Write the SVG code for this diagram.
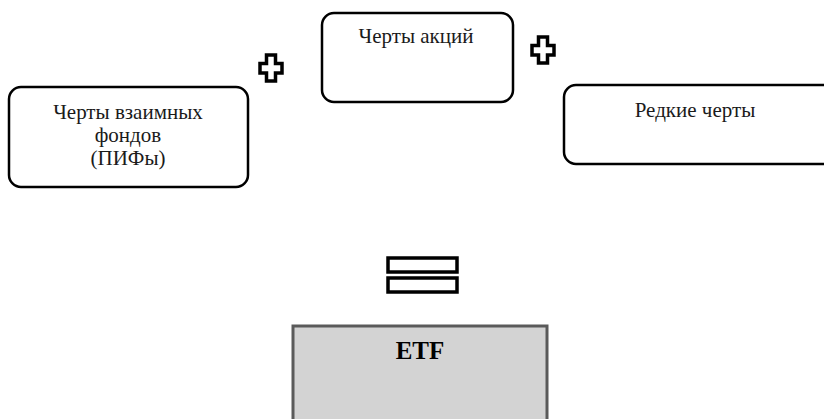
<svg xmlns="http://www.w3.org/2000/svg" width="824" height="419" viewBox="0 0 824 419">
  <style>
    .card { fill: #ffffff; stroke: #000000; stroke-width: 2.5; }
    .etf { fill: #d3d3d3; stroke: #5a5a5a; stroke-width: 3; }
    .sign { fill: #ffffff; stroke: #000000; stroke-width: 3.5; stroke-linejoin: miter; }
    .label { font-family: "Liberation Serif", "Times New Roman", serif; font-size: 21px; fill: #1a1a1a; text-anchor: middle; }
    .title { font-family: "Liberation Serif", "Times New Roman", serif; font-size: 25px; font-weight: bold; fill: #000000; text-anchor: middle; }
  </style>
  <defs>
    <path id="plus" d="M -4.5 -13 H 4.5 V -4.5 H 11 V 5 H 4.5 V 13 H -4.5 V 5 H -11 V -4.5 H -4.5 Z"/>
  </defs>

  <!-- mutual fund traits -->
  <g id="node-funds">
    <rect class="card" x="9" y="87" width="239" height="100" rx="12" ry="12"/>
    <text class="label" x="128" y="119">Черты взаимных</text>
    <text class="label" x="128" y="142">фондов</text>
    <text class="label" x="128" y="165">(ПИФы)</text>
  </g>

  <!-- share traits -->
  <g id="node-shares">
    <rect class="card" x="322" y="13" width="191" height="89" rx="12" ry="12"/>
    <text class="label" x="416" y="43">Черты акций</text>
  </g>

  <!-- rare traits -->
  <g id="node-rare">
    <rect class="card" x="564" y="85" width="275" height="79" rx="12" ry="12"/>
    <text class="label" x="695" y="117">Редкие черты</text>
  </g>

  <!-- operators -->
  <g id="connectors">
    <use href="#plus" class="sign" x="271" y="68"/>
    <use href="#plus" class="sign" x="543" y="50"/>
    <rect class="sign" x="388" y="258" width="69" height="14"/>
    <rect class="sign" x="388" y="278" width="69" height="14"/>
  </g>

  <!-- result -->
  <g id="node-etf">
    <rect class="etf" x="293" y="326" width="254" height="110"/>
    <text class="title" x="420" y="359">ETF</text>
  </g>
</svg>
